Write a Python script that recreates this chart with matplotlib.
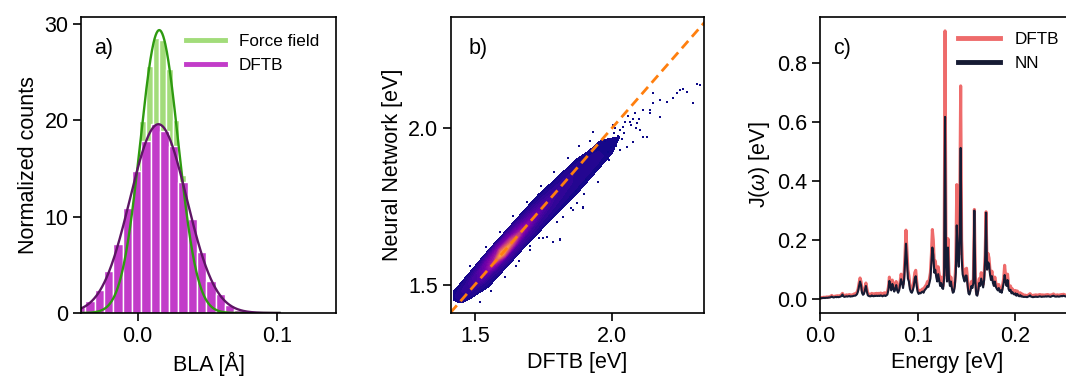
import numpy as np
import matplotlib
matplotlib.use("Agg")
import matplotlib.pyplot as plt
from matplotlib.lines import Line2D

plt.rcParams['font.family'] = ['Liberation Sans', 'DejaVu Sans']
plt.rcParams['mathtext.fontset'] = 'custom'
plt.rcParams['mathtext.it'] = 'Liberation Sans:italic'
plt.rcParams['mathtext.rm'] = 'Liberation Sans'

# ---------------- panel a: BLA histograms ----------------
ff_bin_start = -0.0325
ff_bin_width = 0.0048
ff_counts = [0.1, 0.35, 0.9, 2.2, 4.6, 8.5, 13.9, 19.9, 25.6, 28.5,
             28.3, 25.3, 20.0, 14.3, 8.6, 4.4, 2.1, 0.9, 0.35, 0.1]

dftb_bin_start = -0.0444
dftb_bin_width = 0.0067
dftb_counts = [0.6, 1.2, 2.4, 4.4, 7.2, 10.9, 14.7, 17.8, 19.6, 18.9, 17.3,
               13.6, 9.7, 6.3, 3.3, 2.0, 0.87, 0.35, 0.12, 0.05, 0.02, 0.01]

# ---------------- panel b: density of DFTB vs NN energies ----------------
# along-diagonal position s=(x+y)/2 and offset t=y-x ; z = normalised log density
dens_s = [1.42, 1.45, 1.48, 1.52, 1.56, 1.60, 1.64, 1.68, 1.72, 1.76, 1.80,
          1.84, 1.88, 1.92, 1.96, 2.00, 2.03]
dens_t = [-0.11, -0.08, -0.055, -0.027, 0.0, 0.027, 0.055, 0.08]
dens_z = [  # rows: s ; columns: t
    [-.3, -.3, -.3, -.3, -.1, -.05, -.1, -.3],
    [-.3, -.3, -.3, -.05, 0.03, 0.04, 0.0, -.3],
    [-.3, -.3, -.1, 0.02, 0.06, 0.06, 0.01, -.3],
    [-.3, -.2, 0.0, 0.05, 0.15, 0.12, 0.02, -.2],
    [-.3, -.15, 0.01, 0.08, 0.35, 0.22, 0.03, -.15],
    [-.3, -.12, 0.02, 0.12, 0.85, 0.30, 0.03, -.15],
    [-.25, -.1, 0.02, 0.12, 0.60, 0.22, 0.02, -.2],
    [-.2, -.06, 0.03, 0.10, 0.32, 0.14, 0.02, -.2],
    [-.15, -.04, 0.03, 0.08, 0.20, 0.09, 0.01, -.25],
    [-.12, -.02, 0.03, 0.07, 0.13, 0.06, 0.0, -.25],
    [-.1, -.01, 0.03, 0.06, 0.08, 0.04, -.02, -.3],
    [-.08, 0.0, 0.03, 0.05, 0.06, 0.03, -.05, -.3],
    [-.06, 0.0, 0.03, 0.04, 0.04, 0.01, -.1, -.3],
    [-.05, 0.0, 0.03, 0.03, 0.02, -.03, -.2, -.3],
    [-.05, 0.0, 0.02, 0.02, 0.0, -.1, -.3, -.3],
    [-.1, -.02, 0.0, -.02, -.1, -.3, -.3, -.3],
    [-.3, -.3, -.3, -.3, -.3, -.3, -.3, -.3],
]
sparse_dftb = [2.311, 2.262, 2.299, 2.226, 2.201, 2.152, 2.140, 2.116, 2.177, 2.092,
               2.079, 2.067, 2.104, 2.043, 2.128, 2.055, 2.031, 2.079, 2.152, 2.238,
               2.275, 2.323, 2.250, 2.177, 2.140, 2.116, 1.896, 1.811, 1.860, 1.811,
               1.872, 1.786, 1.762, 1.823, 1.896, 2.010, 2.020, 1.990, 2.005, 2.030,
               2.045, 2.060, 2.015, 2.070, 2.085, 1.985, 2.025, 2.050, 2.100, 2.090,
               1.975, 1.998, 2.012, 2.038, 1.735, 1.700, 1.660, 1.905, 1.940,
               1.520, 1.560, 1.610, 1.650, 1.700, 1.750, 1.800, 1.850, 1.900, 1.950,
               1.480, 1.540, 1.590, 1.640, 1.690, 1.740, 1.790, 1.840, 1.880, 1.930,
               1.960, 1.985, 1.920, 1.870]
sparse_nn = [2.142, 2.128, 2.080, 2.096, 2.085, 2.080, 2.048, 2.059, 2.037, 2.016,
             2.029, 2.021, 1.995, 2.005, 1.973, 1.941, 1.930, 1.957, 2.112, 2.112,
             2.117, 2.139, 2.123, 2.091, 2.059, 1.973, 1.744, 1.647, 1.738, 1.642,
             1.760, 1.637, 1.653, 1.717, 1.749, 1.985, 1.960, 1.900, 2.010, 1.995,
             1.985, 2.040, 1.945, 2.010, 2.050, 1.925, 1.975, 2.020, 2.030, 2.000,
             1.960, 1.940, 2.000, 1.965, 1.650, 1.625, 1.575, 1.835, 1.860,
             1.445, 1.480, 1.525, 1.560, 1.610, 1.650, 1.700, 1.745, 1.790, 1.830,
             1.560, 1.620, 1.670, 1.720, 1.765, 1.815, 1.860, 1.905, 1.945, 1.990,
             1.880, 1.905, 1.960, 1.800]

# ---------------- panel c: spectral densities ----------------
energy = np.linspace(0.0, 0.26, 261)
j_dftb = [
    0.004, 0.005, 0.006, 0.006, 0.007, 0.006, 0.007, 0.008, 0.007, 0.008,
    0.008, 0.010, 0.013, 0.010, 0.009, 0.010, 0.011, 0.010, 0.012, 0.011,
    0.012, 0.013, 0.015, 0.020, 0.014, 0.012, 0.013, 0.015, 0.013, 0.014,
    0.016, 0.013, 0.014, 0.015, 0.016, 0.018, 0.017, 0.020, 0.025, 0.035,
    0.055, 0.072, 0.060, 0.030, 0.022, 0.025, 0.040, 0.055, 0.035, 0.020,
    0.018, 0.016, 0.017, 0.020, 0.018, 0.017, 0.019, 0.018, 0.020, 0.019,
    0.020, 0.019, 0.021, 0.020, 0.018, 0.020, 0.022, 0.019, 0.021, 0.025,
    0.040, 0.075, 0.055, 0.040, 0.065, 0.050, 0.035, 0.045, 0.060, 0.040,
    0.030, 0.040, 0.060, 0.085, 0.070, 0.050, 0.080, 0.150, 0.234, 0.170,
    0.100, 0.080, 0.050, 0.035, 0.030, 0.040, 0.060, 0.090, 0.098, 0.060,
    0.035, 0.025, 0.030, 0.028, 0.032, 0.035, 0.030, 0.040, 0.045, 0.050,
    0.060, 0.055, 0.070, 0.090, 0.150, 0.236, 0.200, 0.120, 0.130, 0.100,
    0.080, 0.110, 0.085, 0.060, 0.075, 0.050, 0.045, 0.090, 0.908, 0.150,
    0.080, 0.205, 0.090, 0.060, 0.075, 0.050, 0.030, 0.035, 0.060, 0.120,
    0.388, 0.200, 0.150, 0.300, 0.722, 0.200, 0.110, 0.090, 0.080, 0.100,
    0.105, 0.070, 0.030, 0.025, 0.040, 0.060, 0.050, 0.070, 0.304, 0.080,
    0.025, 0.018, 0.040, 0.070, 0.060, 0.090, 0.070, 0.050, 0.080, 0.150,
    0.296, 0.120, 0.155, 0.140, 0.100, 0.080, 0.095, 0.070, 0.060, 0.075,
    0.055, 0.045, 0.040, 0.050, 0.035, 0.040, 0.030, 0.050, 0.070, 0.115,
    0.080, 0.060, 0.085, 0.050, 0.040, 0.045, 0.030, 0.035, 0.028, 0.025,
    0.030, 0.022, 0.028, 0.020, 0.018, 0.022, 0.016, 0.018, 0.015, 0.014,
    0.014, 0.013, 0.012, 0.014, 0.016, 0.019, 0.015, 0.013, 0.012, 0.014,
    0.013, 0.015, 0.014, 0.013, 0.015, 0.016, 0.015, 0.014, 0.015, 0.014,
    0.013, 0.015, 0.014, 0.016, 0.015, 0.014, 0.013, 0.015, 0.016, 0.018,
    0.015, 0.014, 0.013, 0.015, 0.014, 0.013, 0.015, 0.016, 0.014, 0.017,
    0.016, 0.014, 0.013, 0.015, 0.014, 0.013, 0.014, 0.012, 0.013, 0.014, 0.013,
]
j_nn = [
    0.003, 0.003, 0.004, 0.004, 0.005, 0.004, 0.005, 0.005, 0.005, 0.006,
    0.006, 0.007, 0.009, 0.007, 0.006, 0.007, 0.008, 0.007, 0.008, 0.007,
    0.008, 0.009, 0.011, 0.016, 0.010, 0.008, 0.009, 0.010, 0.009, 0.010,
    0.011, 0.009, 0.010, 0.010, 0.011, 0.012, 0.012, 0.014, 0.018, 0.028,
    0.045, 0.060, 0.048, 0.022, 0.015, 0.018, 0.032, 0.045, 0.026, 0.013,
    0.011, 0.010, 0.010, 0.013, 0.011, 0.010, 0.012, 0.011, 0.012, 0.011,
    0.012, 0.011, 0.013, 0.012, 0.010, 0.012, 0.013, 0.011, 0.013, 0.016,
    0.032, 0.062, 0.045, 0.030, 0.052, 0.040, 0.026, 0.034, 0.048, 0.030,
    0.022, 0.030, 0.048, 0.068, 0.055, 0.038, 0.062, 0.120, 0.188, 0.130,
    0.070, 0.060, 0.035, 0.025, 0.022, 0.030, 0.045, 0.070, 0.078, 0.045,
    0.025, 0.018, 0.022, 0.020, 0.024, 0.026, 0.022, 0.030, 0.034, 0.038,
    0.045, 0.042, 0.055, 0.070, 0.120, 0.175, 0.150, 0.090, 0.100, 0.075,
    0.060, 0.085, 0.065, 0.045, 0.055, 0.038, 0.035, 0.070, 0.617, 0.120,
    0.060, 0.175, 0.070, 0.045, 0.060, 0.038, 0.022, 0.025, 0.045, 0.090,
    0.250, 0.150, 0.110, 0.220, 0.512, 0.140, 0.085, 0.070, 0.060, 0.080,
    0.080, 0.050, 0.020, 0.016, 0.028, 0.045, 0.038, 0.055, 0.300, 0.060,
    0.015, 0.012, 0.030, 0.055, 0.045, 0.070, 0.055, 0.040, 0.065, 0.130,
    0.293, 0.100, 0.125, 0.120, 0.085, 0.065, 0.078, 0.055, 0.045, 0.060,
    0.042, 0.035, 0.030, 0.038, 0.025, 0.030, 0.022, 0.038, 0.055, 0.082,
    0.060, 0.045, 0.065, 0.035, 0.028, 0.032, 0.020, 0.024, 0.018, 0.016,
    0.020, 0.012, 0.018, 0.012, 0.010, 0.014, 0.009, 0.010, 0.008, 0.008,
    0.008, 0.008, 0.007, 0.009, 0.010, 0.013, 0.009, 0.008, 0.007, 0.008,
    0.008, 0.009, 0.008, 0.008, 0.009, 0.010, 0.009, 0.008, 0.009, 0.009,
    0.009, 0.010, 0.009, 0.010, 0.010, 0.009, 0.008, 0.010, 0.011, 0.012,
    0.010, 0.009, 0.009, 0.010, 0.009, 0.009, 0.010, 0.011, 0.010, 0.012,
    0.011, 0.010, 0.009, 0.010, 0.010, 0.009, 0.009, 0.008, 0.009, 0.010, 0.009,
]

# ---------------- styling ----------------
FS = 15.5
LEG_FS = 12.3
C_FF_BAR = '#a2dc7a'
C_FF_FIT = '#2e9a10'
C_DF_BAR = '#c23cc9'
C_DF_FIT = '#5e1565'
C_RED = '#ee6b6b'
C_NAVY = '#161b33'

W, H = 1066, 381
fig = plt.figure(figsize=(W / 100, H / 100), dpi=100)


def px_axes(left, right, top, bottom):
    return fig.add_axes([left / W, (H - bottom) / H, (right - left) / W, (bottom - top) / H])


axa = px_axes(81, 336, 17, 313)
axb = px_axes(450.7, 704, 17, 313)
axc = px_axes(820, 1074, 17, 313)

for ax in (axa, axb, axc):
    for sp in ax.spines.values():
        sp.set_linewidth(1.2)
    ax.tick_params(direction='out', length=5.5, width=1.2, labelsize=FS)

# panel a
def draw_hist(ax, start, width, counts, color):
    counts = np.asarray(counts)
    lefts = start + width * np.arange(len(counts))
    ax.bar(lefts, counts, width=width, align='edge', color=color,
           edgecolor='white', linewidth=1.0)
    centers = lefts + width / 2
    m = np.sum(counts * centers) / np.sum(counts)
    var = np.sum(counts * (centers - m) ** 2) / np.sum(counts) - width ** 2 / 12
    return m, np.sqrt(var)

m_ff, s_ff = draw_hist(axa, ff_bin_start, ff_bin_width, ff_counts, C_FF_BAR)
m_df, s_df = draw_hist(axa, dftb_bin_start, dftb_bin_width, dftb_counts, C_DF_BAR)
xf = np.linspace(-0.045, 0.102, 400)
axa.plot(xf, np.exp(-(xf - m_ff) ** 2 / (2 * s_ff ** 2)) / (s_ff * np.sqrt(2 * np.pi)),
         color=C_FF_FIT, lw=1.7)
axa.plot(xf, np.exp(-(xf - m_df) ** 2 / (2 * s_df ** 2)) / (s_df * np.sqrt(2 * np.pi)),
         color=C_DF_FIT, lw=1.7)
axa.set_xlim(-0.0408, 0.1426)
axa.set_ylim(0, 30.7)
axa.set_xticks([0.0, 0.1])
axa.set_xticklabels(['0.0', '0.1'])
axa.set_yticks([0, 10, 20, 30])
axa.set_xlabel('BLA [Å]', fontsize=FS)
axa.set_ylabel('Normalized counts', fontsize=FS)
axa.text(0.05, 0.93, 'a)', transform=axa.transAxes, fontsize=FS, va='top', ha='left')
axa.legend(handles=[Line2D([], [], color=C_FF_BAR, lw=3.5), Line2D([], [], color=C_DF_BAR, lw=3.5)],
           labels=['Force field', 'DFTB'], loc='upper right', frameon=False,
           fontsize=LEG_FS, handlelength=2.3, borderaxespad=0.6)

# panel b
S, T = np.meshgrid(dens_s, dens_t, indexing='ij')
Z = np.array(dens_z)
X = S - T / 2
Y = S + T / 2
cs = axb.contourf(X, Y, Z, levels=np.linspace(0, 1, 41), cmap='plasma')
cs.set_edgecolor('face')
cs.set_linewidth(0.5)
axb.scatter(sparse_dftb, sparse_nn, s=2.5, marker='s', color='#0d0887', linewidths=0)
lo, hi = 1.41, 2.36
axb.plot([lo, hi], [lo, hi], color='#ff7f0e', lw=2.0, ls=(0, (3.5, 2)))
axb.set_xlim(1.411, 2.338)
axb.set_ylim(1.409, 2.357)
axb.set_xticks([1.5, 2.0])
axb.set_yticks([1.5, 2.0])
axb.set_xlabel('DFTB [eV]', fontsize=FS)
axb.set_ylabel('Neural Network [eV]', fontsize=FS)
axb.text(0.07, 0.93, 'b)', transform=axb.transAxes, fontsize=FS, va='top', ha='left')

# panel c
axc.plot(energy, j_dftb, color=C_RED, lw=2.2, label='DFTB')
axc.plot(energy, j_nn, color=C_NAVY, lw=1.5, label='NN')
axc.set_xlim(0, 0.26)
axc.set_ylim(-0.0465, 0.955)
axc.set_xticks([0.0, 0.1, 0.2])
axc.set_yticks([0.0, 0.2, 0.4, 0.6, 0.8])
axc.set_xlabel('Energy [eV]', fontsize=FS)
axc.set_ylabel(r'J($\omega$) [eV]', fontsize=FS)
axc.text(0.05, 0.93, 'c)', transform=axc.transAxes, fontsize=FS, va='top', ha='left')
leg = axc.legend(loc='upper right', frameon=False, fontsize=LEG_FS, handlelength=2.5,
                 borderaxespad=0.5)
for h in leg.get_lines():
    h.set_linewidth(3.5)

fig.savefig('out.png', dpi=100)
